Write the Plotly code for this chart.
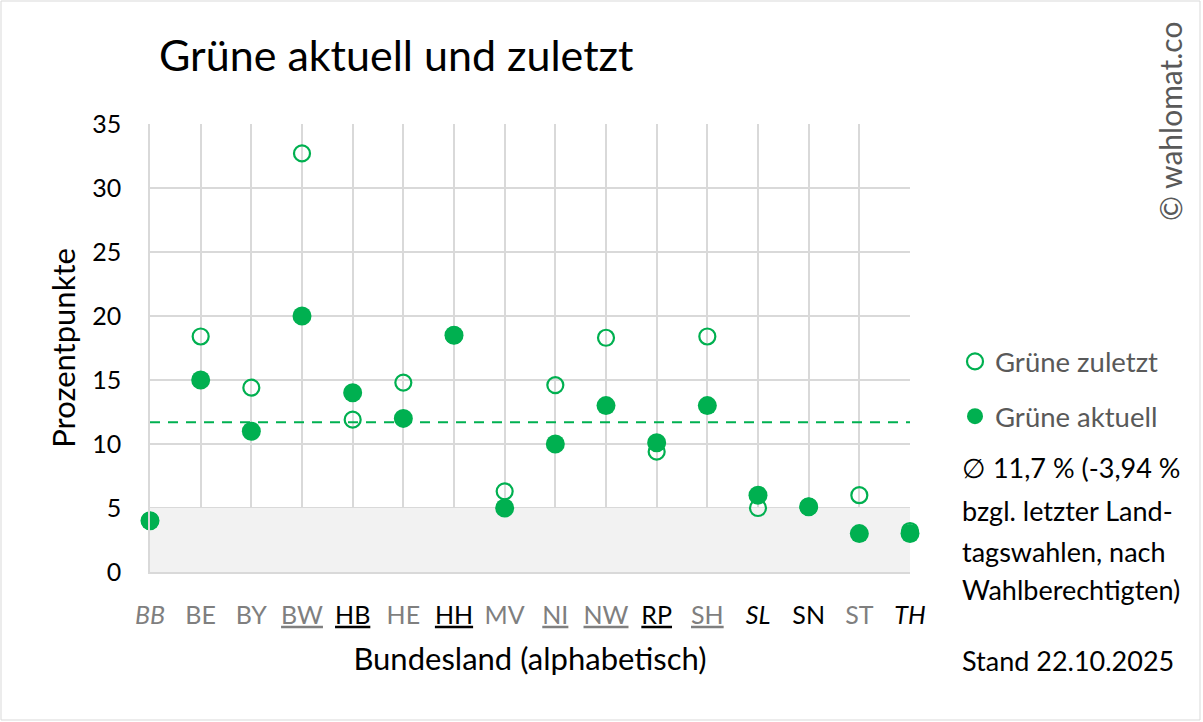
import plotly.graph_objects as go

# ---- data ----
laender = ["BB", "BE", "BY", "BW", "HB", "HE", "HH", "MV", "NI", "NW", "RP", "SH", "SL", "SN", "ST", "TH"]
gruene_zuletzt = [4.0, 18.4, 14.4, 32.7, 11.9, 14.8, 18.5, 6.3, 14.6, 18.3, 9.4, 18.4, 5.0, 5.1, 6.0, 3.2]
gruene_aktuell = [4.0, 15.0, 11.0, 20.0, 14.0, 12.0, 18.5, 5.0, 10.0, 13.0, 10.1, 13.0, 6.0, 5.1, 3.0, 3.0]
durchschnitt = 11.7
schwelle = 5
y_ticks = [0, 5, 10, 15, 20, 25, 30, 35]
titel = "Grüne aktuell und zuletzt"
info_zeilen = ["∅ 11,7 % (-3,94 %", "bzgl. letzter Land-", "tagswahlen, nach", "Wahlberechtigten)"]
stand = "Stand 22.10.2025"
copyright_text = "© wahlomat.co"

# ---- styling of tick labels (separate from data) ----
GREY = "#7f7f7f"
BLACK = "#000000"
label_style = {
    "BB": (GREY, "italic", None), "BE": (GREY, None, None), "BY": (GREY, None, None),
    "BW": (GREY, None, "underline;text-decoration-style:double"), "HB": (BLACK, None, "underline"),
    "HE": (GREY, None, None), "HH": (BLACK, None, "underline"), "MV": (GREY, None, None),
    "NI": (GREY, None, "underline"), "NW": (GREY, None, "underline"), "RP": (BLACK, None, "underline"),
    "SH": (GREY, None, "underline"), "SL": (BLACK, "italic", None), "SN": (BLACK, None, None),
    "ST": (GREY, None, None), "TH": (BLACK, "italic", None),
}

def fmt(lbl):
    col, style, deco = label_style[lbl]
    css = f"color:{col};"
    if deco:
        css += f"text-decoration:{deco};"
    txt = f"<span style='{css}'>{lbl}</span>"
    if style == "italic":
        txt = f"<i>{txt}</i>"
    return txt

W, H = 1203, 722
L, R, T, B = 150, 293, 124, 150
PW, PH = W - L - R, H - T - B
def px(x):
    return (x - L) / PW
def py(y):
    return (H - B - y) / PH

GREEN = "#00b050"
FONT = "Lato"
xs = list(range(len(laender)))

fig = go.Figure()
fig.add_trace(go.Scatter(
    x=xs, y=gruene_zuletzt, mode="markers", name="Grüne zuletzt",
    marker=dict(symbol="circle-open", size=16, color=GREEN, line=dict(width=2.2, color=GREEN)),
    cliponaxis=False, legendgroup="a",
))
fig.add_trace(go.Scatter(
    x=xs, y=gruene_aktuell, mode="markers", name="Grüne aktuell",
    marker=dict(symbol="circle", size=19, color=GREEN),
    cliponaxis=False, legendgroup="b",
))

# grey band below threshold
fig.add_shape(type="rect", xref="x", yref="y", x0=xs[0], x1=xs[-1], y0=0, y1=schwelle,
              fillcolor="#f2f2f2", line=dict(width=0), layer="between")
# average line
fig.add_shape(type="line", xref="x", yref="y", x0=xs[0], x1=xs[-1], y0=durchschnitt, y1=durchschnitt,
              line=dict(color=GREEN, width=2, dash="10px,8px"), layer="above")
# outer border
fig.add_shape(type="rect", xref="paper", yref="paper", x0=px(1), x1=px(1200), y0=py(720), y1=py(1),
              line=dict(color="#d9d9d9", width=1), fillcolor="rgba(0,0,0,0)", layer="below")

fig.add_annotation(text=titel, xref="paper", yref="paper", x=px(157), y=py(55), xanchor="left",
                   yanchor="middle", showarrow=False, font=dict(family=FONT, size=43, color="#000"))
fig.add_annotation(text=copyright_text, xref="paper", yref="paper", x=px(1170), y=py(122), textangle=-90,
                   xanchor="center", yanchor="middle", showarrow=False,
                   font=dict(family=FONT, size=30, color="#595959"))
line_y = [467, 510, 551, 589]
for t, yy in zip(info_zeilen, line_y):
    fig.add_annotation(text=t, xref="paper", yref="paper", x=px(960), y=py(yy), xanchor="left",
                       yanchor="middle", showarrow=False, font=dict(family=FONT, size=27, color="#000"))
fig.add_annotation(text=stand, xref="paper", yref="paper", x=px(960), y=py(660), xanchor="left",
                   yanchor="middle", showarrow=False, font=dict(family=FONT, size=27, color="#000"))

fig.update_layout(
    width=W, height=H, margin=dict(l=L, r=R, t=T, b=B),
    paper_bgcolor="white", plot_bgcolor="white",
    font=dict(family=FONT, color="#000"),
    showlegend=True,
    legend=dict(x=px(955), y=py(337), xanchor="left", yanchor="top", bgcolor="rgba(0,0,0,0)",
                font=dict(family=FONT, size=27.5, color="#595959"), tracegroupgap=16, itemwidth=30),
    xaxis=dict(range=[xs[0], xs[-1]], tickvals=xs, ticktext=[fmt(l) for l in laender],
               showgrid=True, gridcolor="#d9d9d9", gridwidth=1.5, zeroline=False,
               showline=True, linecolor="#d9d9d9", linewidth=1.5, ticks="",
               tickfont=dict(family=FONT, size=25), ticklabelstandoff=20,
               title=dict(text="Bundesland (alphabetisch)",
                          font=dict(family=FONT, size=31, color="#000"), standoff=21)),
    yaxis=dict(range=[0, 35], tickvals=y_ticks, showgrid=True, gridcolor="#d9d9d9", gridwidth=1.5,
               zeroline=False, showline=True, linecolor="#d9d9d9", linewidth=1.5, ticks="",
               tickfont=dict(family=FONT, size=25, color="#000"), ticklabelstandoff=22,
               title=dict(text="Prozentpunkte", font=dict(family=FONT, size=31, color="#000"), standoff=7)),
)

fig.write_html("out.html", post_script="document.body.style.margin='0px';",
               config={"displayModeBar": False})
